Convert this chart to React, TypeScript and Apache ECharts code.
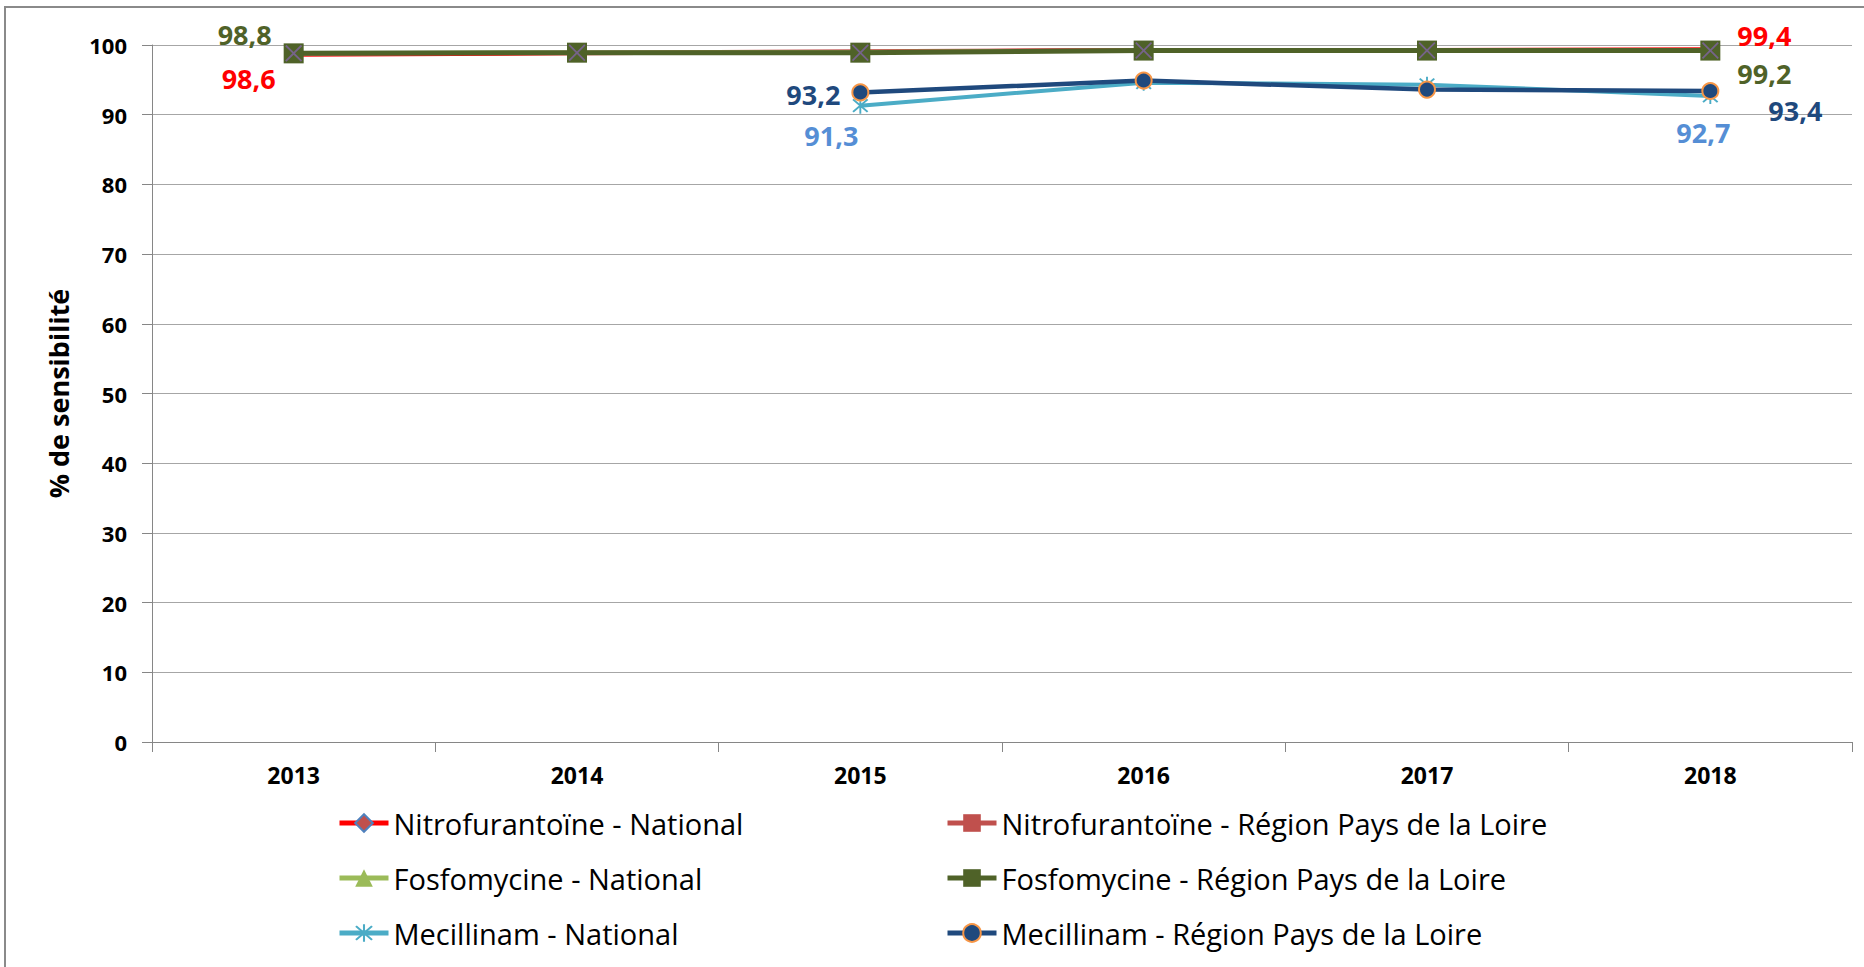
import React, { useEffect, useRef } from "react";
import * as echarts from "echarts";

const years = ["2013", "2014", "2015", "2016", "2017", "2018"];
const nitroNational = [98.6, 98.8, 99.0, 99.3, 99.3, 99.4];
const nitroRegion = [98.7, 98.9, 99.1, 99.3, 99.3, 99.3];
const fosfoNational = [98.8, 98.9, 99.0, 99.2, 99.2, 99.2];
const fosfoRegion = [98.8, 98.9, 98.9, 99.2, 99.2, 99.2];
const mecNational = [null, null, 91.3, 94.6, 94.3, 92.7];
const mecRegion = [null, null, 93.2, 94.9, 93.6, 93.4];

const seriesNames = [
  "Nitrofurantoïne - National",
  "Nitrofurantoïne - Région Pays de la Loire",
  "Fosfomycine - National",
  "Fosfomycine - Région Pays de la Loire",
  "Mecillinam - National",
  "Mecillinam - Région Pays de la Loire",
];

const FONT = "'Open Sans', 'Noto Sans', sans-serif";

const starPath =
  "path://M9,0 L11,0 L11,20 L9,20 Z M1.5,3 L3,1.5 L18.5,17 L17,18.5 Z M17,1.5 L18.5,3 L3,18.5 L1.5,17 Z";
const xPath =
  "path://M0,1.5 L1.5,0 L10,8.5 L18.5,0 L20,1.5 L11.5,10 L20,18.5 L18.5,20 L10,11.5 L1.5,20 L0,18.5 L8.5,10 Z";

type Offs = { [i: number]: [number, number] };

function withLabels(values: (number | null)[], offs: Offs, color: string) {
  return values.map((v, i) =>
    offs[i] && v !== null
      ? {
          value: v,
          label: {
            show: true,
            position: "inside",
            offset: offs[i],
            color,
            fontFamily: FONT,
            fontWeight: "bold",
            fontSize: 27,
            formatter: (p: any) => String(p.value).replace(".", ","),
          },
        }
      : v
  );
}

export default function App() {
  const ref = useRef<HTMLDivElement>(null);
  useEffect(() => {
    if (!ref.current) return;
    const chart = echarts.init(ref.current, undefined, { renderer: "svg" });
    const legendText = { fontFamily: FONT, fontSize: 29, color: "#000", lineHeight: 30 };
    const legendBase = {
      orient: "vertical",
      top: 803,
      itemWidth: 49,
      itemHeight: 22,
      itemGap: 25,
      textStyle: legendText,
      lineStyle: { width: 5 },
    };
    chart.setOption({
      animation: false,
      backgroundColor: "#fff",
      graphic: [
        {
          type: "rect",
          shape: { x: 5, y: 7, width: 1900, height: 1000 },
          style: { fill: "none", stroke: "#8a8a8a", lineWidth: 2 },
          silent: true,
        },
      ],
      grid: { left: 152, right: 12, top: 45, bottom: 225, containLabel: false },
      legend: [
        { ...legendBase, left: 332, data: [seriesNames[0], seriesNames[2], seriesNames[4]] },
        { ...legendBase, left: 940, data: [seriesNames[1], seriesNames[3], seriesNames[5]] },
      ],
      xAxis: {
        type: "category",
        data: years,
        boundaryGap: true,
        axisLine: { lineStyle: { color: "#868686", width: 1 } },
        axisTick: { show: true, length: 10, lineStyle: { color: "#868686" } },
        axisLabel: {
          fontFamily: FONT,
          fontWeight: "bold",
          fontSize: 23,
          color: "#000",
          margin: 21,
        },
        splitLine: { show: false },
      },
      yAxis: {
        type: "value",
        min: 0,
        max: 100,
        interval: 10,
        name: "% de sensibilité",
        nameLocation: "middle",
        nameRotate: 90,
        nameGap: 80,
        nameTextStyle: { fontFamily: FONT, fontWeight: "bold", fontSize: 27, color: "#000" },
        axisLine: { show: true, lineStyle: { color: "#868686", width: 1 } },
        axisTick: { show: true, length: 10, lineStyle: { color: "#868686" } },
        axisLabel: {
          fontFamily: FONT,
          fontWeight: "bold",
          fontSize: 22,
          color: "#000",
          margin: 25,
        },
        splitLine: { show: true, lineStyle: { color: "#a6a6a6", width: 1 } },
      },
      series: [
        {
          name: seriesNames[0],
          type: "line",
          data: withLabels(nitroNational, { 0: [-45, 24], 5: [54, -14] }, "#ff0000"),
          lineStyle: { color: "#ff0000", width: 4 },
          symbol: "diamond",
          symbolSize: 16,
          itemStyle: { color: "#c0504d", borderColor: "#4f81bd", borderWidth: 1 },
          z: 2,
        },
        {
          name: seriesNames[1],
          type: "line",
          data: nitroRegion,
          lineStyle: { color: "#c0504d", width: 4 },
          symbol: "rect",
          symbolSize: 15,
          itemStyle: { color: "#c0504d" },
          z: 2,
        },
        {
          name: seriesNames[2],
          type: "line",
          data: fosfoNational,
          lineStyle: { color: "#9bbb59", width: 4 },
          symbol: "triangle",
          symbolSize: 16,
          itemStyle: { color: "#9bbb59" },
          z: 2,
        },
        {
          name: seriesNames[3],
          type: "line",
          data: withLabels(fosfoRegion, { 0: [-49, -19], 5: [54, 23] }, "#4f6228"),
          lineStyle: { color: "#4f6228", width: 5 },
          symbol: "rect",
          symbolSize: 20,
          itemStyle: { color: "#4f6228" },
          z: 3,
        },
        {
          name: "fosfoX",
          type: "scatter",
          data: fosfoRegion,
          symbol: xPath,
          symbolSize: 17,
          itemStyle: { color: "#8064a2" },
          silent: true,
          z: 4,
        },
        {
          name: seriesNames[4],
          type: "line",
          data: withLabels(mecNational, { 2: [-29, 30], 5: [-7, 37] }, "#558ed5"),
          lineStyle: { color: "#4bacc6", width: 4 },
          symbol: starPath,
          symbolSize: 16,
          itemStyle: { color: "#4bacc6" },
          z: 5,
        },
        {
          name: seriesNames[5],
          type: "line",
          data: withLabels(mecRegion, { 2: [-47, 2], 5: [85, 19] }, "#1f497d"),
          lineStyle: { color: "#1f497d", width: 4.5 },
          symbol: "circle",
          symbolSize: 16,
          itemStyle: { color: "#1f497d", borderColor: "#f79646", borderWidth: 2 },
          z: 6,
        },
      ],
    });
    return () => chart.dispose();
  }, []);
  return (
    <div
      ref={ref}
      style={{ position: "fixed", left: 0, top: 0, width: 1864, height: 967 }}
    />
  );
}
